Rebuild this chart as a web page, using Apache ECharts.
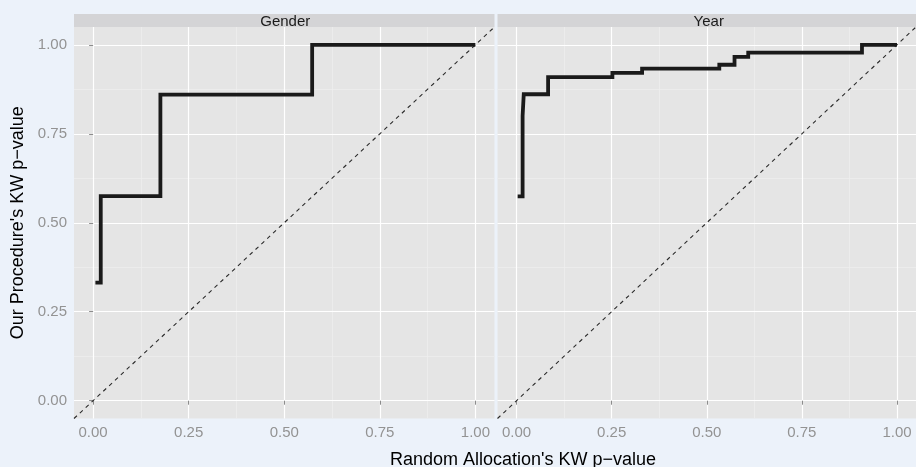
<!DOCTYPE html>
<html><head><meta charset="utf-8">
<script src="https://cdn.jsdelivr.net/npm/echarts@6/dist/echarts.min.js"></script>
<style>html,body{margin:0;padding:0;background:#ECF2FA}#c{width:916px;height:467px}</style>
</head><body><div id="c"></div>
<script>
// ---- data ----
const facets = ['Gender', 'Year'];
const genderX = [0.006, 0.020, 0.176, 0.573, 1.000];
const genderY = [0.332, 0.575, 0.860, 1.000, 1.000];
const yearX = [0.003, 0.016, 0.019, 0.083, 0.252, 0.330, 0.533, 0.573, 0.609, 0.908, 1.000];
const yearY = [0.574, 0.800, 0.861, 0.909, 0.921, 0.933, 0.944, 0.966, 0.978, 1.000, 1.000];
const majorTicks = [0, 0.25, 0.5, 0.75, 1];
const minorTicks = [0.125, 0.375, 0.625, 0.875];
const refLine = [-0.05, 1.05];
const xTitle = "Random Allocation's KW p\u2212value";
const yTitle = "Our Procedure's KW p\u2212value";

// ---- chart ----
const FONT = 'Liberation Sans, Arial, sans-serif';
const chart = echarts.init(document.getElementById('c'), null, {renderer: 'canvas'});
const PANELS = [{left: 74, width: 420.5}, {left: 497.5, width: 420.5}];
const TOP = 27, HEIGHT = 391.5;

function majorAxis(gi, pos, showLabels, showTicks) {
  return {
    type: 'value', gridIndex: gi, min: -0.05, max: 1.05, position: pos, z: 1,
    axisLine: {show: false},
    axisTick: {show: showTicks, customValues: majorTicks, length: 4, lineStyle: {color: '#8C8C8C', width: 1}},
    axisLabel: {show: showLabels, customValues: majorTicks, formatter: v => Number(v).toFixed(2),
      color: '#939393', fontSize: 15, fontFamily: FONT, margin: 7},
    splitLine: {show: true, lineStyle: {color: '#FFFFFF', width: 1.2}}
  };
}
function minorAxis(gi, pos) {
  return {
    type: 'value', gridIndex: gi, min: -0.05, max: 1.05, position: pos, z: 0,
    axisLine: {show: false},
    axisTick: {show: false, customValues: minorTicks},
    axisLabel: {show: false},
    splitLine: {show: true, lineStyle: {color: '#F0F0F0', width: 0.6}}
  };
}
const zip = (xs, ys) => xs.map((x, i) => [x, ys[i]]);
const stepData = [zip(genderX, genderY), zip(yearX, yearY)];

const series = [];
facets.forEach((f, i) => {
  series.push({
    type: 'line', name: f + ' reference', xAxisIndex: 2 * i, yAxisIndex: 2 * i,
    data: zip(refLine, refLine), symbol: 'none', silent: true, z: 2,
    lineStyle: {color: '#2A2A2A', width: 1.1, type: [4, 4]}
  });
  series.push({
    type: 'line', name: f, xAxisIndex: 2 * i, yAxisIndex: 2 * i,
    data: stepData[i], step: 'end', symbol: 'none', z: 3,
    lineStyle: {color: '#1A1A1A', width: 3.8, join: 'miter', cap: 'butt'}
  });
});

const graphic = [];
facets.forEach((f, i) => {
  const p = PANELS[i];
  graphic.push({type: 'rect', shape: {x: p.left, y: 14, width: p.width, height: 13},
    style: {fill: '#D4D4D6'}, silent: true, z: -1});
  graphic.push({type: 'text', x: p.left + p.width / 2 + 1, y: 21.5,
    style: {text: f, fill: '#1A1A1A', fontSize: 15, fontFamily: FONT, textAlign: 'center', textVerticalAlign: 'middle'}});
});
graphic.push({type: 'text', x: 523, y: 460,
  style: {text: xTitle, fill: '#000000', fontSize: 18, fontFamily: FONT, textAlign: 'center', textVerticalAlign: 'middle'}});
graphic.push({type: 'text', x: 18.4, y: 222.7, rotation: Math.PI / 2,
  style: {text: yTitle, fill: '#000000', fontSize: 18, fontFamily: FONT, textAlign: 'center', textVerticalAlign: 'middle'}});

chart.setOption({
  backgroundColor: '#ECF2FA',
  animation: false,
  grid: PANELS.map(p => ({left: p.left, width: p.width, top: TOP, height: HEIGHT,
    show: true, backgroundColor: '#E5E5E5', borderWidth: 0, containLabel: false})),
  xAxis: [majorAxis(0, 'bottom', true, true), minorAxis(0, 'top'),
          majorAxis(1, 'bottom', true, true), minorAxis(1, 'top')],
  yAxis: [majorAxis(0, 'left', true, true), minorAxis(0, 'right'),
          majorAxis(1, 'left', false, false), minorAxis(1, 'right')],
  series: series,
  graphic: graphic
});
</script>
</body></html>
